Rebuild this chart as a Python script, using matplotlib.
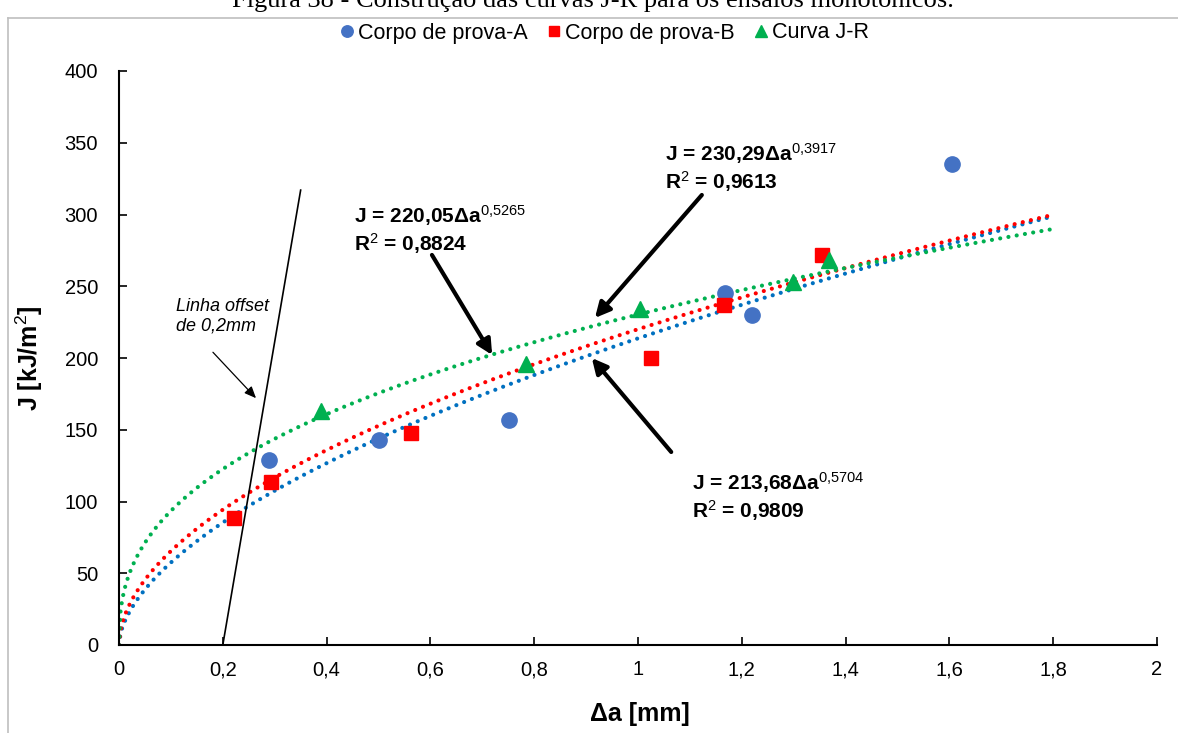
import matplotlib
matplotlib.use('Agg')
import matplotlib.pyplot as plt
from matplotlib.lines import Line2D
import numpy as np

plt.rcParams['font.family'] = ['Liberation Sans', 'DejaVu Sans']
plt.rcParams['mathtext.fontset'] = 'custom'
plt.rcParams['mathtext.rm'] = 'Liberation Sans'
plt.rcParams['mathtext.it'] = 'Liberation Sans:italic'
plt.rcParams['mathtext.bf'] = 'Liberation Sans:bold'

# data
a_x = [0.289, 0.501, 0.751, 1.168, 1.220, 1.605]
a_y = [129, 143, 157, 245, 230, 335]

b_x = [0.222, 0.293, 0.563, 1.025, 1.166, 1.355]
b_y = [88.5, 113.6, 147.7, 200, 237, 272]

jr_x = [0.389, 0.784, 1.004, 1.299, 1.368]
jr_y = [163, 196, 234, 253, 268]

# power-law trend lines J = C * da^m (from the chart labels)
fit_coef = [213.68, 220.05, 230.29]
fit_exp = [0.5704, 0.5265, 0.3917]
fit_r2 = ['0,9809', '0,8824', '0,9613']
fit_coef_txt = ['213,68', '220,05', '230,29']
fit_exp_txt = ['0{,}5704', '0{,}5265', '0{,}3917']
fit_colors = ['#0070C0', '#FF0000', '#00B050']
fit_xmax = 1.8

offset_x = [0.2, 0.35]
offset_y = [0, 317]

x_ticks = [0, 0.2, 0.4, 0.6, 0.8, 1, 1.2, 1.4, 1.6, 1.8, 2]
x_tick_labels = ['0', '0,2', '0,4', '0,6', '0,8', '1', '1,2', '1,4', '1,6', '1,8', '2']
y_ticks = [0, 50, 100, 150, 200, 250, 300, 350, 400]

W, H = 1178, 733
fig = plt.figure(figsize=(W / 100, H / 100), dpi=100)
ax = fig.add_axes([119 / W, 1 - 645 / H, (1157 - 119) / W, (645 - 71) / H])

# trend lines
xx = np.linspace(0, fit_xmax, 600)
for c, m, col in zip(fit_coef, fit_exp, fit_colors):
    ax.plot(xx, c * xx ** m, color=col, lw=3.0, linestyle=(0, (0.01, 2.0)),
            dash_capstyle='round', zorder=2)

ax.plot(offset_x, offset_y, color='black', lw=1.2, zorder=3)

h_a, = ax.plot(a_x, a_y, 'o', color='#4472C4', ms=11, ls='none', zorder=4,
               label='Corpo de prova-A')
h_b, = ax.plot(b_x, b_y, 's', color='#FF0000', ms=10, ls='none', zorder=4,
               label='Corpo de prova-B')
h_c, = ax.plot(jr_x, jr_y, '^', color='#00B050', ms=11, ls='none', zorder=4,
               label='Curva J-R')

ax.set_xlim(0, 2)
ax.set_ylim(0, 400)
ax.set_xticks(x_ticks)
ax.set_xticklabels(x_tick_labels)
ax.set_yticks(y_ticks)
ax.tick_params(direction='in', length=6, width=1.2, labelsize=14.5, colors='black')
ax.tick_params(axis='y', pad=15)
ax.tick_params(axis='x', pad=11)
for s in ['top', 'right']:
    ax.spines[s].set_visible(False)
for s in ['left', 'bottom']:
    ax.spines[s].set_linewidth(1.5)

ax.set_xlabel('Δa [mm]', fontsize=18, fontweight='bold')
ax.xaxis.set_label_coords(0.502, -0.099)
ax.set_ylabel('J [kJ/m$^{\\mathrm{2}}$]', fontsize=18, fontweight='bold')
ax.yaxis.set_label_coords(-0.071, 0.50)

# equation labels and arrows
eq_pos = [(1.104, 122), (0.453, 308), (1.052, 351)]
arrows = [((1.064, 134.5), (0.911, 200)),
          ((0.603, 271.8), (0.719, 202.1)),
          ((1.123, 313.6), (0.917, 227.9))]
for i in range(3):
    txt = ('J = ' + fit_coef_txt[i] + 'Δa$^{\\mathrm{' + fit_exp_txt[i] + '}}$\n'
           'R$^{\\mathrm{2}}$ = ' + fit_r2[i])
    ax.text(eq_pos[i][0], eq_pos[i][1], txt, fontsize=15, fontweight='bold',
            va='top', ha='left', linespacing=1.15, zorder=5)
    tail, head = arrows[i]
    ax.annotate('', xy=head, xytext=tail,
                arrowprops=dict(arrowstyle='-|>,head_length=0.9,head_width=0.45',
                                lw=3, color='black', shrinkA=0, shrinkB=0))

ax.text(0.110, 242, 'Linha offset\nde 0,2mm', fontsize=13, style='italic',
        va='top', ha='left', linespacing=1.25)
ax.annotate('', xy=(0.264, 172), xytext=(0.181, 204),
            arrowprops=dict(arrowstyle='-|>,head_length=0.7,head_width=0.3',
                            lw=0.9, color='black', shrinkA=0, shrinkB=0))

fig.legend(handles=[h_a, h_b, h_c], loc='center', bbox_to_anchor=(0.512, 1 - 33 / H),
           ncol=3, frameon=False, fontsize=15.5, handletextpad=0.05,
           columnspacing=0.8, handlelength=0.9, markerscale=0.75)

# chart frame and the caption above it (cut off at the top, as in the source page)
fig.add_artist(Line2D([8 / W, 8 / W], [1 - 18 / H, -0.05], color='#BFBFBF', lw=1.2,
                      transform=fig.transFigure))
fig.add_artist(Line2D([8 / W, 1.05], [1 - 18 / H, 1 - 18 / H], color='#BFBFBF', lw=1.2,
                      transform=fig.transFigure))
fig.text(0.503, 1 - 7 / H, 'Figura 38 - Construção das curvas J-R para os ensaios monotônicos.',
         family='Liberation Serif', fontsize=19, ha='center', va='baseline')

fig.savefig('out.png', dpi=100)
